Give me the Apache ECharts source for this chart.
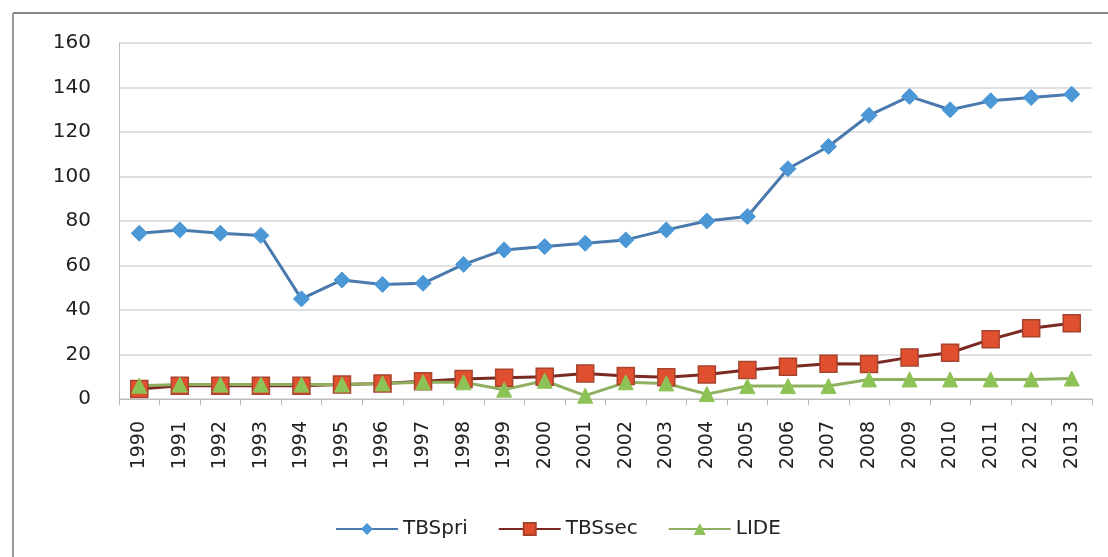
<!DOCTYPE html>
<html>
<head>
<meta charset="utf-8">
<script src="https://cdn.jsdelivr.net/npm/echarts@6/dist/echarts.min.js"></script>
<style>
  html, body { margin: 0; padding: 0; background: #fff; }
  #chart { width: 1108px; height: 557px; }
</style>
</head>
<body>
<div id="chart"></div>
<script>
// data
var years = ['1990','1991','1992','1993','1994','1995','1996','1997','1998','1999','2000','2001',
             '2002','2003','2004','2005','2006','2007','2008','2009','2010','2011','2012','2013'];
var tbsPri = [74.5, 76, 74.5, 73.5, 45, 53.5, 51.5, 52, 60.5, 67, 68.5, 70,
              71.5, 76, 80, 82, 103.5, 113.5, 127.5, 136, 130, 134, 135.5, 137];
var tbsSec = [4.5, 6, 6, 6, 6, 6.5, 7, 8, 9, 9.5, 10, 11.5,
              10.3, 9.8, 11, 13, 14.5, 15.8, 15.7, 18.7, 20.8, 26.8, 31.8, 34];
var lide = [6, 6.5, 6.5, 6.5, 6.5, 6.5, 7, 7.5, 7.5, 4.2, 8.2, 1.5,
            7.5, 7, 2.2, 5.8, 5.8, 5.8, 8.8, 8.8, 8.8, 8.8, 8.8, 9.2];
var yTicks = [0, 20, 40, 60, 80, 100, 120, 140, 160];

var chart = echarts.init(document.getElementById('chart'));

var option = {
    backgroundColor: '#fff',
    animation: false,
    textStyle: { fontFamily: 'DejaVu Sans' },
    grid: { left: 119, right: 16, top: 43, bottom: 158 },
    legend: {
        left: 330,
        top: 514,
        itemWidth: 62,
        itemHeight: 15,
        itemGap: 30,
        textStyle: { fontSize: 20, color: '#222', fontFamily: 'DejaVu Sans' },
        data: ['TBSpri', 'TBSsec', 'LIDE']
    },
    xAxis: {
        type: 'category',
        data: years,
        boundaryGap: true,
        axisLine: { lineStyle: { color: '#bbb', width: 1 } },
        axisTick: { show: true, length: 6, lineStyle: { color: '#bbb' } },
        axisLabel: { rotate: 90, margin: 22, fontSize: 19, color: '#222', interval: 0 }
    },
    yAxis: {
        type: 'value',
        min: yTicks[0],
        max: yTicks[yTicks.length - 1],
        interval: 20,
        axisLine: { show: true, lineStyle: { color: '#bbb' } },
        axisTick: { show: false },
        axisLabel: { fontSize: 20, color: '#222', margin: 28 },
        splitLine: { lineStyle: { color: '#d6d6d6', width: 1.5 } }
    },
    series: [
        {
            name: 'TBSpri',
            type: 'line',
            data: tbsPri,
            symbol: 'diamond',
            symbolSize: 16,
            lineStyle: { color: '#4a79ad', width: 3 },
            itemStyle: { color: '#4c98d6', borderColor: '#4c98d6' }
        },
        {
            name: 'TBSsec',
            type: 'line',
            data: tbsSec,
            symbol: 'rect',
            symbolSize: 17,
            lineStyle: { color: '#7a2a22', width: 3 },
            itemStyle: { color: '#e0502e', borderColor: '#a8432e', borderWidth: 1.5 }
        },
        {
            name: 'LIDE',
            type: 'line',
            data: lide,
            symbol: 'triangle',
            symbolSize: 15,
            lineStyle: { color: '#8fb060', width: 3 },
            itemStyle: { color: '#8dc356', borderColor: '#8dc356' }
        }
    ],
    graphic: [
        // frame of the scanned figure
        { type: 'line', shape: { x1: 13, y1: 13, x2: 13, y2: 557 }, style: { stroke: '#999', lineWidth: 2 } },
        { type: 'line', shape: { x1: 13, y1: 13, x2: 1108, y2: 13 }, style: { stroke: '#888', lineWidth: 2 } }
    ]
};

chart.setOption(option);
</script>
</body>
</html>
